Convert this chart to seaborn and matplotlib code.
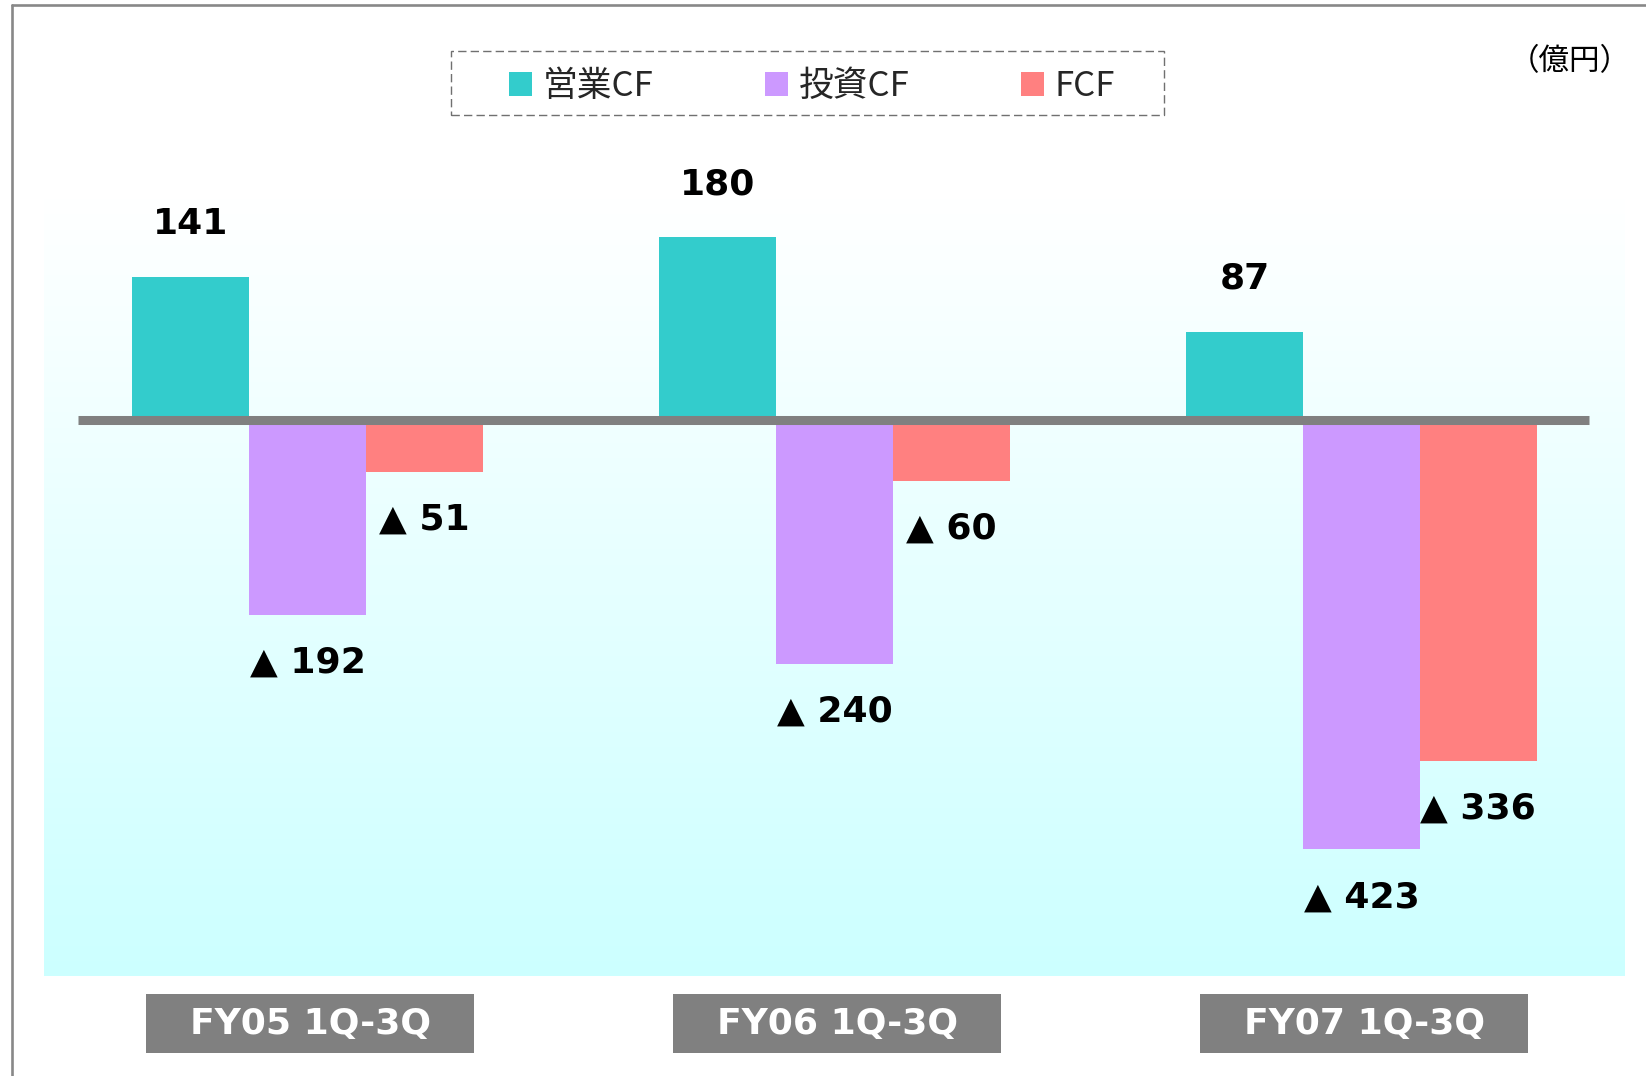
import numpy as np
import pandas as pd
import matplotlib
matplotlib.use("Agg")
import matplotlib.pyplot as plt
import seaborn as sns
from matplotlib.colors import LinearSegmentedColormap
from matplotlib.patches import Rectangle
from matplotlib.lines import Line2D
from matplotlib.font_manager import FontProperties
import matplotlib.transforms as mtransforms

# Cash flow data (億円)
PERIODS = ["FY05 1Q-3Q", "FY06 1Q-3Q", "FY07 1Q-3Q"]
SERIES = ["営業CF", "投資CF", "FCF"]
OPERATING_CF = [141, 180, 87]
INVESTING_CF = [-192, -240, -423]
FREE_CF = [-51, -60, -336]
COLORS = ["#33CCCC", "#CC99FF", "#FF8080"]
UNIT_LABEL = "（億円）"

sns.set_theme(style="white")
plt.rcParams["font.family"] = ["DejaVu Sans", "Noto Sans CJK JP"]

# long-form table for seaborn
df = pd.DataFrame({
    "period": PERIODS * 3,
    "series": [SERIES[0]] * 3 + [SERIES[1]] * 3 + [SERIES[2]] * 3,
    "value": OPERATING_CF + INVESTING_CF + FREE_CF,
})

fig = plt.figure(figsize=(16.46, 10.76), dpi=100)
fig.patch.set_facecolor("white")
ax = fig.add_axes([0.0267, 0.0929, 0.9605, 0.724])

sns.barplot(data=df, x="period", y="value", hue="series", order=PERIODS,
            hue_order=SERIES, palette=COLORS, saturation=1, width=0.665,
            linewidth=0, edgecolor="none", ax=ax, zorder=2)

XLIM = (-0.5, 2.5)
YLIM = (-547.8, 219.7)

# soft white -> cyan background (white at top)
cmap = LinearSegmentedColormap.from_list("bg", ["#FFFFFF", "#CCFFFF"])
grad = np.linspace(0, 1, 256).reshape(-1, 1)
ax.imshow(grad, cmap=cmap, extent=(XLIM[0], XLIM[1], YLIM[0], YLIM[1]),
          aspect="auto", zorder=0, origin="upper")
ax.set_xlim(*XLIM)
ax.set_ylim(*YLIM)

# zero line
ax.axhline(0, xmin=0.0215, xmax=0.977, color="#808080", lw=6.5,
           solid_capstyle="butt", zorder=3)

# value labels
for cont in ax.containers:
    for bar in cont:
        h = bar.get_height()
        xc = bar.get_x() + bar.get_width() / 2
        if h >= 0:
            ax.annotate(f"{h:.0f}", (xc, h), xytext=(0, 38), textcoords="offset points",
                        ha="center", va="center", fontsize=26, fontweight="bold",
                        color="black", zorder=4)
        else:
            ax.annotate(f"▲ {abs(h):.0f}", (xc, h), xytext=(0, -34.5),
                        textcoords="offset points", ha="center", va="center",
                        fontsize=26, fontweight="bold", color="black", zorder=4)

# category label boxes under the plot
trans = mtransforms.blended_transform_factory(ax.transData, ax.transAxes)
box_w = 0.622
for i, name in enumerate(PERIODS):
    ax.add_patch(Rectangle((i + 0.005 - box_w / 2, -0.0988), box_w, 0.0757,
                           transform=trans, facecolor="#808080", edgecolor="none",
                           clip_on=False, zorder=2))
    ax.text(i + 0.005, -0.061, name, transform=trans, ha="center", va="center",
            fontsize=26, fontweight="bold", color="white", zorder=3)

ax.set_xticks([])
ax.set_yticks([])
ax.set_xlabel("")
ax.set_ylabel("")
for s in ax.spines.values():
    s.set_visible(False)

# legend inside dashed box
handles, labels = ax.get_legend_handles_labels()
ax.legend(handles, labels, ncol=3, loc="center left",
          bbox_to_anchor=(0.3093, 0.9193), bbox_transform=fig.transFigure,
          frameon=False, prop=FontProperties(family=["Noto Sans CJK JP"], size=25),
          handlelength=0.66, handleheight=0.66, handletextpad=0.32,
          columnspacing=3.2, borderpad=0, borderaxespad=0)
fig.add_artist(Rectangle((0.274, 0.8927), 0.4332, 0.0595, transform=fig.transFigure,
                         fill=False, edgecolor="#707070", lw=1.0,
                         linestyle=(0, (6, 3))))

# unit label
fig.text(0.9538, 0.9424, UNIT_LABEL, ha="center", va="center", fontsize=22,
         family=["Noto Sans CJK JP"], color="black")

# outer frame (top and left edges)
fig.add_artist(Line2D([0.0070, 1.0], [0.9956, 0.9956], transform=fig.transFigure,
                      color="#888888", lw=1.9))
fig.add_artist(Line2D([0.0070, 0.0070], [0.0, 0.9956], transform=fig.transFigure,
                      color="#888888", lw=1.9))

fig.savefig("out.png", dpi=100)
